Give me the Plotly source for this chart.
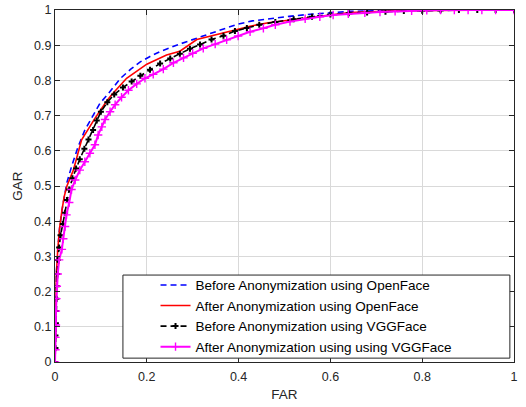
import plotly.graph_objects as go

# ---- data ----
blue_far = [0, 0.001, 0.003, 0.006, 0.010, 0.015, 0.020, 0.026, 0.036, 0.050, 0.065, 0.080, 0.091, 0.098,
            0.116, 0.142, 0.165, 0.185, 0.207, 0.229, 0.269, 0.300, 0.323, 0.360, 0.396, 0.430, 0.468,
            0.510, 0.556, 0.600, 0.643, 0.700, 0.800, 0.900, 1.000]
blue_gar = [0, 0.15, 0.25, 0.32, 0.38, 0.43, 0.47, 0.51, 0.555, 0.61, 0.659, 0.695, 0.718, 0.735,
            0.762, 0.805, 0.832, 0.852, 0.868, 0.882, 0.902, 0.916, 0.927, 0.945, 0.959, 0.969, 0.976,
            0.982, 0.988, 0.992, 0.996, 0.998, 0.999, 1.0, 1.0]

red_far = [0, 0.001, 0.003, 0.006, 0.010, 0.015, 0.020, 0.026, 0.040, 0.058, 0.087, 0.113, 0.124, 0.156,
           0.200, 0.243, 0.272, 0.309, 0.359, 0.403, 0.425, 0.465, 0.534, 0.643, 0.750, 0.850, 1.000]
red_gar = [0, 0.15, 0.25, 0.32, 0.38, 0.43, 0.47, 0.50, 0.545, 0.631, 0.692, 0.742, 0.760, 0.806,
           0.846, 0.872, 0.883, 0.916, 0.932, 0.948, 0.954, 0.964, 0.976, 0.993, 0.998, 0.999, 1.0]

black_far = [0, 0.001, 0.001, 0.002, 0.002, 0.003, 0.004, 0.005, 0.006, 0.009, 0.012, 0.017, 0.022, 0.026,
             0.031, 0.038, 0.046, 0.054, 0.064, 0.073, 0.083, 0.091, 0.100, 0.114, 0.129, 0.148, 0.167,
             0.186, 0.207, 0.229, 0.251, 0.272, 0.294, 0.316, 0.341, 0.367, 0.392, 0.418, 0.445, 0.480,
             0.520, 0.560, 0.600, 0.640, 0.680, 0.720, 0.760, 0.800, 0.840, 0.880, 0.920, 0.960, 1.000]
black_gar = [0, 0.04, 0.075, 0.11, 0.145, 0.18, 0.215, 0.25, 0.29, 0.325, 0.36, 0.392, 0.424, 0.46,
             0.49, 0.522, 0.55, 0.576, 0.606, 0.632, 0.659, 0.686, 0.711, 0.738, 0.760, 0.780, 0.797,
             0.813, 0.830, 0.848, 0.862, 0.876, 0.890, 0.902, 0.916, 0.927, 0.940, 0.949, 0.958, 0.966,
             0.974, 0.981, 0.987, 0.991, 0.993, 0.995, 0.997, 0.998, 0.999, 1.0, 1.0, 1.0, 1.0]

mag_far = [0, 0.001, 0.001, 0.002, 0.002, 0.003, 0.004, 0.006, 0.009, 0.015, 0.018, 0.022, 0.025, 0.031,
           0.036, 0.044, 0.054, 0.065, 0.076, 0.087, 0.094, 0.102, 0.109, 0.120, 0.131, 0.145, 0.160,
           0.178, 0.196, 0.214, 0.236, 0.258, 0.280, 0.300, 0.323, 0.349, 0.374, 0.399, 0.425, 0.454,
           0.480, 0.512, 0.545, 0.577, 0.606, 0.639, 0.675, 0.708, 0.741, 0.777, 0.810, 0.840, 0.870,
           0.900, 0.930, 0.960, 1.000]
mag_gar = [0, 0.035, 0.07, 0.105, 0.145, 0.18, 0.215, 0.25, 0.29, 0.32, 0.35, 0.385, 0.418, 0.453,
           0.49, 0.517, 0.545, 0.569, 0.593, 0.617, 0.645, 0.668, 0.689, 0.711, 0.731, 0.752, 0.772,
           0.790, 0.806, 0.817, 0.832, 0.850, 0.864, 0.877, 0.891, 0.903, 0.915, 0.926, 0.938, 0.948,
           0.958, 0.967, 0.975, 0.981, 0.986, 0.989, 0.992, 0.994, 0.996, 0.998, 0.999, 1.0, 1.0,
           1.0, 1.0, 1.0, 1.0]

series_names = ["Before Anonymization using OpenFace",
                "After Anonymization using OpenFace",
                "Before Anonymization using VGGFace",
                "After Anonymization using using VGGFace"]

x_ticks = [0, 0.2, 0.4, 0.6, 0.8, 1]
x_tick_labels = ["0", "0.2", "0.4", "0.6", "0.8", "1"]
y_ticks = [0, 0.1, 0.2, 0.3, 0.4, 0.5, 0.6, 0.7, 0.8, 0.9, 1]
y_tick_labels = ["0", "0.1", "0.2", "0.3", "0.4", "0.5", "0.6", "0.7", "0.8", "0.9", "1"]

FONT = "Liberation Sans, Arial, sans-serif"
TXT = "#262626"

fig = go.Figure()
fig.add_trace(go.Scatter(x=blue_far, y=blue_gar, mode="lines", name=series_names[0],
                         line=dict(color="#0000ff", width=1.6, dash="6px,4px")))
fig.add_trace(go.Scatter(x=red_far, y=red_gar, mode="lines", name=series_names[1],
                         line=dict(color="#ff0000", width=1.6)))
fig.add_trace(go.Scatter(x=black_far, y=black_gar, mode="lines+markers", name=series_names[2],
                         line=dict(color="#000000", width=1.6, dash="6px,4px"),
                         marker=dict(symbol="cross", size=5, color="#000000",
                                     line=dict(width=0))))
fig.add_trace(go.Scatter(x=mag_far, y=mag_gar, mode="lines+markers", name=series_names[3],
                         line=dict(color="#ff00ff", width=2),
                         marker=dict(symbol="cross-thin", size=6, color="#ff00ff",
                                     line=dict(width=1.4, color="#ff00ff"))))

axis_common = dict(showline=True, linecolor=TXT, linewidth=1, mirror="ticks",
                   ticks="inside", ticklen=5, tickcolor=TXT, automargin=False,
                   showgrid=True, gridcolor="#d9d9d9", gridwidth=1,
                   zeroline=False, tickfont=dict(family=FONT, size=12.5, color=TXT),
                   title_font=dict(family=FONT, size=13.5, color=TXT))

fig.update_xaxes(range=[0, 1], tickvals=x_ticks, ticktext=x_tick_labels,
                 title_text="FAR", title_standoff=6, ticklabelstandoff=3, **axis_common)
fig.update_yaxes(range=[0, 1], tickvals=y_ticks, ticktext=y_tick_labels,
                 title_text="GAR", title_standoff=8, **axis_common)

# legend frame (Matlab-style wide box)
fig.add_shape(type="rect", xref="paper", yref="paper",
              x0=0.148, x1=0.991, y0=0.011, y1=0.247,
              line=dict(color=TXT, width=1), fillcolor="white", layer="above")

fig.update_layout(
    width=526, height=407,
    margin=dict(l=55, r=12, t=10, b=45),
    paper_bgcolor="white", plot_bgcolor="white",
    font=dict(family=FONT, size=12, color="#000000"),
    showlegend=True,
    legend=dict(x=0.219, y=-0.002, xanchor="left", yanchor="bottom",
                bgcolor="rgba(0,0,0,0)", borderwidth=0,
                font=dict(family=FONT, size=13.5, color="#000000"),
                itemwidth=30, tracegroupgap=0),
)

fig.write_html("out.html", config={"displayModeBar": False},
               post_script="document.body.style.margin='0';")
